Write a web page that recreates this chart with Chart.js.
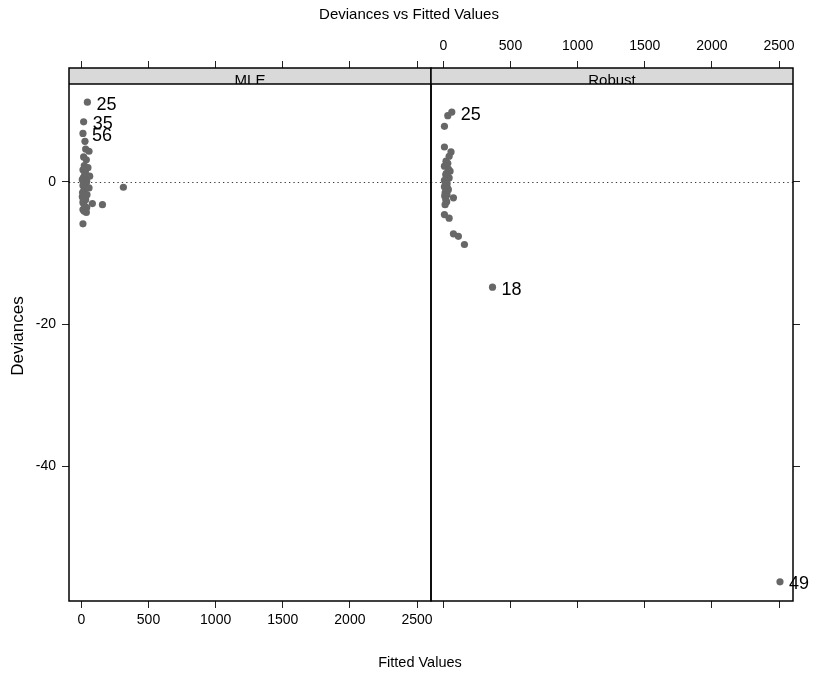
<!DOCTYPE html>
<html>
<head>
<meta charset="utf-8">
<script src="https://cdn.jsdelivr.net/npm/chart.js@4/dist/chart.umd.min.js"></script>
<style>
  html, body { margin: 0; padding: 0; background: #fff; }
  #wrap { position: relative; width: 818px; height: 675px; }
  #wrap canvas { position: absolute; left: 0; top: 0; }
</style>
</head>
<body>
<div id="wrap">
  <canvas id="mle" width="818" height="675"></canvas>
  <canvas id="robust" width="818" height="675"></canvas>
</div>
<script>
// ---- text ----
const mainTitle = 'Deviances vs Fitted Values';
const xTitle = 'Fitted Values';
const yTitle = 'Deviances';
const panelNames = ['MLE', 'Robust'];

// ---- axes ----
const xTicks = [0, 500, 1000, 1500, 2000, 2500];
const yTicks = [-40, -20, 0];
const xLimits = [-92, 2604];
const yLimits = [-58.9, 16.0];

// ---- MLE fit: fitted value, deviance residual, observation label ----
const mleFitted = [45, 17, 12, 27, 32, 57, 17, 37, 22, 49, 12, 30, 25, 62, 15, 7, 40, 37, 20, 12,
                   57, 313, 28, 17, 9, 42, 7, 22, 32, 14, 82, 157, 12, 25, 40, 12, 20, 37, 12];
const mleDeviance = [11.2, 8.44, 6.8, 5.7, 4.6, 4.3, 3.5, 3.1, 2.3, 2.0, 1.7, 1.4, 1.0, 0.8, 0.6, 0.3, 0.1, -0.05, -0.2, -0.5,
                     -0.85, -0.76, -0.9, -1.3, -1.5, -1.8, -2.1, -2.3, -2.5, -2.7, -3.05, -3.2, -2.95, -3.4, -3.6, -3.9, -4.1, -4.3, -5.9];
const mleLabel = ['25', '35', '56'];   // first three points are tagged

// ---- Robust fit ----
const robFitted = [63, 33, 8, 8, 57, 43, 20, 33, 8, 38, 50, 22, 18, 30, 43, 8, 28, 15, 8, 32,
                   37, 20, 13, 27, 10, 75, 18, 25, 13, 8, 43, 75, 112, 157, 366, 2507];
const robDeviance = [9.8, 9.3, 7.8, 4.9, 4.2, 3.6, 2.9, 2.6, 2.2, 1.8, 1.5, 1.2, 1.0, 0.8, 0.55, 0.2, -0.25, -0.4, -0.7, -0.9,
                     -1.1, -1.3, -1.55, -1.8, -2.0, -2.25, -2.5, -2.8, -3.2, -4.6, -5.1, -7.3, -7.65, -8.8, -14.8, -56.2];
const robLabel = {0: '25', 34: '18', 35: '49'};

// ---- page geometry ----
const W = 818, H = 675;
const PANEL_LEFT = 69, PANEL_SPLIT = 431, PANEL_RIGHT = 793;
const PANEL_TOP = 68, PANEL_BOTTOM = 601;
const STRIP_H = 16;
const FONT = '"Liberation Sans", Arial, Helvetica, sans-serif';
const TICK_FONT = 14;

Chart.defaults.font.family = FONT;
Chart.defaults.color = '#000';

function toPoints(xs, ys) { return xs.map((x, i) => ({ x: x, y: ys[i] })); }

// strips, panel frame, zero reference line, point tags and outer titles
const panelDecor = {
  id: 'panelDecor',
  beforeDatasetsDraw(chart) {
    const { ctx, chartArea: a, scales } = chart;
    const y0 = scales.y.getPixelForValue(0);
    ctx.save();
    ctx.strokeStyle = '#3a3a3a';
    ctx.lineWidth = 1.2;
    ctx.setLineDash([1.3, 3.1]);
    ctx.beginPath();
    ctx.moveTo(a.left, Math.round(y0) + 0.5);
    ctx.lineTo(a.right, Math.round(y0) + 0.5);
    ctx.stroke();
    ctx.restore();
  },
  afterDatasetsDraw(chart, args, opts) {
    const { ctx } = chart;
    const meta = chart.getDatasetMeta(0);
    ctx.save();
    ctx.fillStyle = '#000';
    ctx.font = '18px ' + FONT;
    ctx.textAlign = 'left';
    ctx.textBaseline = 'middle';
    meta.data.forEach((pt, i) => {
      const t = opts.tags[i];
      if (t) ctx.fillText(t, pt.x + 9, pt.y + 2.5);
    });
    ctx.restore();
  },
  afterDraw(chart, args, opts) {
    const { ctx, chartArea: a } = chart;
    ctx.save();
    // strip
    ctx.fillStyle = '#d9d9d9';
    ctx.fillRect(a.left, a.top, a.right - a.left, STRIP_H);
    ctx.save();
    ctx.beginPath();
    ctx.rect(a.left, a.top, a.right - a.left, STRIP_H);
    ctx.clip();
    ctx.fillStyle = '#000';
    ctx.font = '15px ' + FONT;
    ctx.textAlign = 'center';
    ctx.textBaseline = 'alphabetic';
    ctx.fillText(opts.name, (a.left + a.right) / 2, a.top + STRIP_H + 1);
    ctx.restore();
    ctx.strokeStyle = '#000';
    ctx.lineWidth = 1.5;
    ctx.beginPath();
    ctx.moveTo(a.left, a.top + STRIP_H);
    ctx.lineTo(a.right, a.top + STRIP_H);
    ctx.stroke();
    // frame
    ctx.strokeRect(a.left, a.top, a.right - a.left, a.bottom - a.top);
    ctx.restore();

    if (opts.titles) {
      ctx.save();
      ctx.fillStyle = '#000';
      ctx.textAlign = 'center';
      ctx.textBaseline = 'alphabetic';
      ctx.font = '15px ' + FONT;
      ctx.fillText(mainTitle, 409, 19);
      ctx.font = '14.5px ' + FONT;
      ctx.fillText(xTitle, 420, 667);
      ctx.font = '17px ' + FONT;
      ctx.translate(23, 336);
      ctx.rotate(-Math.PI / 2);
      ctx.fillText(yTitle, 0, 0);
      ctx.restore();
    }
  }
};

function tickGrid() {
  return { drawOnChartArea: false, drawTicks: true, tickLength: 7, color: '#222', lineWidth: 1 };
}

const plainNumber = v => String(v);

function xScale(position, showLabels, size, pad) {
  return {
    type: 'linear', position: position, axis: 'x',
    min: xLimits[0], max: xLimits[1],
    afterBuildTicks: s => { s.ticks = xTicks.map(v => ({ value: v })); },
    afterFit: s => { s.height = size; },
    ticks: { display: showLabels, font: { size: TICK_FONT }, color: '#000', padding: pad,
             maxRotation: 0, autoSkip: false, callback: plainNumber },
    grid: tickGrid(),
    border: { display: false }
  };
}

function yScale(position, showLabels, size) {
  return {
    type: 'linear', position: position,
    min: yLimits[0], max: yLimits[1],
    afterBuildTicks: s => { s.ticks = yTicks.map(v => ({ value: v })); },
    afterFit: s => { s.width = size; },
    ticks: { display: showLabels, font: { size: TICK_FONT }, color: '#000', padding: 6, callback: plainNumber },
    grid: tickGrid(),
    border: { display: false }
  };
}

function pointSet(xs, ys) {
  return {
    data: toPoints(xs, ys),
    backgroundColor: '#676767',
    borderWidth: 0,
    pointRadius: 3.6,
    pointHoverRadius: 3.6
  };
}

const common = {
  responsive: false,
  animation: false,
  devicePixelRatio: 1,
  events: [],
};

new Chart(document.getElementById('mle'), {
  type: 'scatter',
  data: { datasets: [pointSet(mleFitted, mleDeviance)] },
  options: Object.assign({}, common, {
    layout: { padding: { left: 0, top: 0, right: W - PANEL_SPLIT, bottom: 0 } },
    scales: {
      x: xScale('bottom', true, H - PANEL_BOTTOM, 4),
      xTop: xScale('top', false, PANEL_TOP, 6),
      y: yScale('left', true, PANEL_LEFT)
    },
    plugins: {
      legend: { display: false }, tooltip: { enabled: false }, title: { display: false },
      panelDecor: { name: panelNames[0], tags: mleLabel, titles: true }
    }
  }),
  plugins: [panelDecor]
});

new Chart(document.getElementById('robust'), {
  type: 'scatter',
  data: { datasets: [pointSet(robFitted, robDeviance)] },
  options: Object.assign({}, common, {
    layout: { padding: { left: PANEL_SPLIT, top: 0, right: 0, bottom: 0 } },
    scales: {
      x: xScale('bottom', false, H - PANEL_BOTTOM, 4),
      xTop: xScale('top', true, PANEL_TOP, 6),
      y: yScale('right', false, W - PANEL_RIGHT)
    },
    plugins: {
      legend: { display: false }, tooltip: { enabled: false }, title: { display: false },
      panelDecor: { name: panelNames[1], tags: robLabel, titles: false }
    }
  }),
  plugins: [panelDecor]
});
</script>
</body>
</html>
